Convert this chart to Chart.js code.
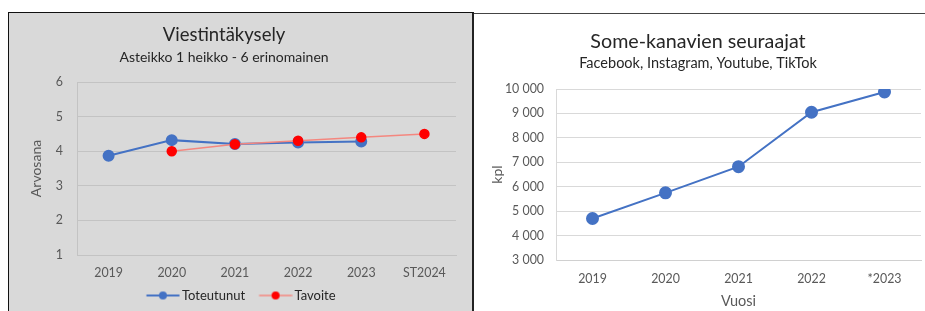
<!DOCTYPE html>
<html lang="fi">
<head>
<meta charset="UTF-8">
<title>Viestintäkysely / Some-kanavien seuraajat</title>
<script src="https://cdn.jsdelivr.net/npm/chart.js@4.4.0/dist/chart.umd.min.js"></script>
<style>
  html, body { margin: 0; padding: 0; background: #fff; overflow: hidden; width: 925px; height: 311px; }
  .panel { position: absolute; box-sizing: border-box; }
  #leftPanel { left: 8px; top: 12px; width: 466px; height: 310px; background: #d9d9d9;
    border-left: 1px solid #111; border-top: 1px solid #111; border-right: 2px solid #222; }
  #rightPanel { left: 474px; top: 13px; width: 460px; height: 310px; background: #fff;
    border-top: 1px solid #444; }
  canvas { position: absolute; }
  #survey { left: -8px; top: 13px; }
  #followers { left: 475px; top: 14px; }
</style>
</head>
<body>
<div class="panel" id="leftPanel"></div>
<div class="panel" id="rightPanel"></div>
<canvas id="survey" width="472" height="299"></canvas>
<canvas id="followers" width="490" height="297"></canvas>
<script>
// left chart data
var surveyYears = ['2019', '2020', '2021', '2022', '2023', 'ST2024'];
var toteutunut = [3.87, 4.32, 4.21, 4.25, 4.28, null];
var tavoite = [null, 4.0, 4.2, 4.3, 4.4, 4.5];

// right chart data
var someYears = ['2019', '2020', '2021', '2022', '*2023'];
var seuraajat = [4700, 5750, 6820, 9050, 9880];

Chart.defaults.font.family = 'Lato';
Chart.defaults.color = '#595959';

var blue = '#4472c4';
var red = '#ff0000';
var redLine = '#f4877f';
var tickSize = 12.4;

// little line+dot image like the excel legend
function legendIcon(line, dot, r, lw) {
  var c = document.createElement('canvas');
  c.width = 42; c.height = 14;
  var g = c.getContext('2d');
  g.strokeStyle = line; g.lineWidth = lw;
  g.beginPath(); g.moveTo(8.5, 7); g.lineTo(41.5, 7); g.stroke();
  g.fillStyle = dot;
  g.beginPath(); g.arc(25, 7, r, 0, Math.PI * 2); g.fill();
  return c;
}

var shiftLegend = {
  id: 'shiftLegend',
  afterLayout: function(chart, args, opts) {
    if (!chart.legend || !opts.dx) return;
    chart.legend.left += opts.dx;
    chart.legend.right += opts.dx;
  }
};

function fixWidth(w) {
  return function(scale) { scale.width = w; };
}
function fixHeight(h) {
  return function(scale) { scale.height = h; };
}

var surveyChart = new Chart(document.getElementById('survey'), {
  type: 'line',
  data: {
    labels: surveyYears,
    datasets: [
      {
        label: 'Toteutunut',
        data: toteutunut,
        borderColor: blue,
        backgroundColor: blue,
        pointBackgroundColor: blue,
        pointBorderColor: blue,
        borderWidth: 2,
        pointRadius: 5,
        order: 2
      },
      {
        label: 'Tavoite',
        data: tavoite,
        borderColor: redLine,
        backgroundColor: red,
        pointBackgroundColor: red,
        pointBorderColor: red,
        borderWidth: 1.5,
        pointRadius: 4.5,
        order: 1
      }
    ]
  },
  options: {
    responsive: false,
    devicePixelRatio: 1,
    animation: false,
    layout: { padding: { left: 0, right: 8, top: 0, bottom: 0 } },
    scales: {
      x: {
        offset: true,
        afterFit: fixHeight(24),
        grid: { display: false, drawTicks: false },
        border: { display: true, color: '#c3c3c3' },
        ticks: { padding: 10.5, font: { size: tickSize }, color: '#595959' }
      },
      y: {
        min: 1, max: 6,
        afterFit: fixWidth(85),
        grid: { color: '#c3c3c3', drawTicks: false },
        border: { display: true, color: '#c3c3c3' },
        ticks: { stepSize: 1, padding: 14, font: { size: tickSize }, color: '#595959' },
        title: { display: true, text: 'Arvosana', color: '#595959', font: { size: 14 }, padding: { top: 35.6, bottom: 0 } }
      }
    },
    plugins: {
      title: {
        display: true, text: 'Viestintäkysely', color: '#262626',
        font: { size: 18.5, weight: 'normal' }, padding: { top: 11, bottom: 2.4 }
      },
      subtitle: {
        display: true, text: 'Asteikko 1 heikko - 6 erinomainen', color: '#262626',
        font: { size: 14 }, padding: { top: 0, bottom: 16.6 }
      },
      legend: {
        position: 'bottom',
        labels: {
          usePointStyle: true,
          pointStyleWidth: 33,
          padding: 10,
          color: '#262626',
          font: { size: 13 },
          generateLabels: function(chart) {
            return chart.data.datasets.map(function(ds, i) {
              return {
                text: ds.label,
                pointStyle: legendIcon(ds.borderColor, ds.pointBackgroundColor, 4, ds.borderWidth),
                fillStyle: ds.pointBackgroundColor,
                strokeStyle: ds.borderColor,
                lineWidth: 0,
                fontColor: '#262626',
                hidden: !chart.isDatasetVisible(i),
                datasetIndex: i
              };
            });
          }
        }
      },
      shiftLegend: { dx: 15 },
      tooltip: { enabled: false }
    }
  },
  plugins: [shiftLegend]
});

var someChart = new Chart(document.getElementById('followers'), {
  type: 'line',
  data: {
    labels: someYears,
    datasets: [{
      label: 'Seuraajat',
      data: seuraajat,
      borderColor: blue,
      backgroundColor: blue,
      pointBackgroundColor: blue,
      pointBorderColor: blue,
      borderWidth: 2,
      pointRadius: 5.5
    }]
  },
  options: {
    responsive: false,
    devicePixelRatio: 1,
    animation: false,
    layout: { padding: { left: 0, right: 44, top: 0, bottom: 0 } },
    scales: {
      x: {
        offset: true,
        afterFit: fixHeight(51),
        grid: { display: false, drawTicks: false },
        border: { display: true, color: '#d0d0d0' },
        ticks: { padding: 11.5, font: { size: tickSize }, color: '#595959' },
        title: { display: true, text: 'Vuosi', color: '#595959', font: { size: 14.5 }, padding: { top: 6, bottom: 1.3 } }
      },
      y: {
        min: 3000, max: 10000,
        afterFit: fixWidth(81),
        grid: { color: '#d9d9d9', drawTicks: false },
        border: { display: true, color: '#d9d9d9' },
        ticks: {
          stepSize: 1000, padding: 12, font: { size: tickSize }, color: '#595959',
          callback: function(v) { return String(v).replace(/\B(?=(\d{3})+(?!\d))/g, ' '); }
        },
        title: { display: true, text: 'kpl', color: '#595959', font: { size: 14 }, padding: { top: 13.6, bottom: 0 } }
      }
    },
    plugins: {
      title: {
        display: true, text: 'Some-kanavien seuraajat', color: '#262626',
        font: { size: 19.7, weight: 'normal' }, padding: { top: 16.2, bottom: 0.5 }
      },
      subtitle: {
        display: true, text: 'Facebook, Instagram, Youtube, TikTok', color: '#262626',
        font: { size: 14.5 }, padding: { top: 0, bottom: 17.3 }
      },
      legend: { display: false },
      tooltip: { enabled: false }
    }
  }
});
</script>
</body>
</html>
